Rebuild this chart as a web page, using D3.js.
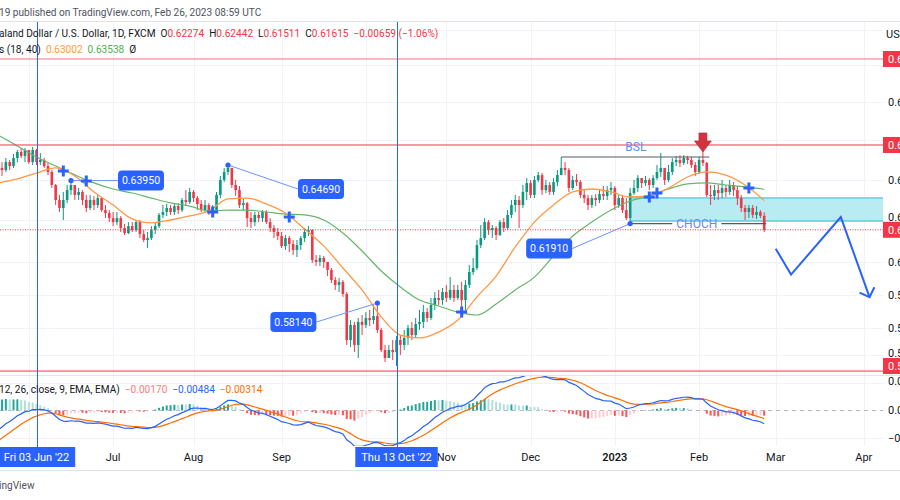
<!DOCTYPE html>
<html>
<head>
<meta charset="utf-8">
<script src="https://cdn.jsdelivr.net/npm/d3@7"></script>
<style>
  body { margin: 0; background: #fff; }
  svg { display: block; font-family: Roboto, "Noto Sans", sans-serif; }
  text { white-space: pre; }
</style>
</head>
<body>
<script>
// NZDUSD daily, 20 May 2022 .. 24 Feb 2023 (weekdays only)
const startDate = new Date(2022, 4, 20);
const open0 = 0.6407;
const closes = [
  .6455,.6445,.6483,.6464,.6502,.6531,.6512,.6540,.6483,.6540,
  .6483,.6493,.6464,.6436,.6374,.6303,.6265,.6303,.6350,.6374,
  .6327,.6341,.6303,.6265,.6303,.6279,.6312,.6255,.6241,.6217,
  .6198,.6217,.6170,.6146,.6179,.6160,.6198,.6141,.6113,.6122,
  .6160,.6179,.6232,.6246,.6265,.6246,.6274,.6255,.6303,.6293,
  .6341,.6312,.6284,.6255,.6279,.6246,.6255,.6327,.6398,.6436,
  .6455,.6374,.6350,.6279,.6288,.6217,.6198,.6232,.6217,.6246,
  .6198,.6170,.6151,.6132,.6084,.6122,.6094,.6066,.6089,.6122,
  .6151,.6160,.6018,.6009,.6028,.6009,.5971,.5923,.5900,.5914,
  .5857,.5638,.5710,.5615,.5724,.5710,.5743,.5733,.5752,.5686,
  .5591,.5553,.5591,.5581,.5638,.5615,.5648,.5695,.5662,.5714,
  .5724,.5771,.5743,.5805,.5838,.5828,.5866,.5838,.5876,.5838,
  .5876,.5828,.5900,.5961,.5980,.6089,.6122,.6198,.6160,.6170,
  .6137,.6198,.6170,.6232,.6279,.6303,.6279,.6341,.6383,.6327,
  .6398,.6421,.6350,.6374,.6341,.6388,.6421,.6455,.6445,.6360,
  .6398,.6388,.6327,.6312,.6279,.6312,.6303,.6331,.6322,.6350,
  .6360,.6279,.6312,.6255,.6217,.6336,.6360,.6407,.6383,.6398,
  .6374,.6407,.6436,.6455,.6398,.6436,.6483,.6493,.6479,.6502,
  .6493,.6469,.6436,.6493,.6479,.6327,.6322,.6350,.6336,.6360,
  .6341,.6374,.6350,.6312,.6265,.6246,.6265,.6232,.6246,.62274,
  .61615
];
const highs = [
  .6469,.6483,.6502,.6493,.6521,.6540,.6550,.6550,.6540,.6555,
  .6545,.6526,.6502,.6478,.6445,.6379,.6327,.6341,.6374,.6398,
  .6374,.6360,.6350,.6327,.6327,.6322,.6327,.6317,.6279,.6255,
  .6246,.6246,.6227,.6189,.6198,.6198,.6208,.6208,.6160,.6151,
  .6179,.6198,.6241,.6279,.6284,.6279,.6284,.6288,.6312,.6350,
  .6360,.6350,.6322,.6303,.6303,.6288,.6279,.6341,.6417,.6455,
  .6469,.6455,.6398,.6369,.6312,.6293,.6246,.6246,.6246,.6255,
  .6255,.6217,.6184,.6170,.6151,.6137,.6132,.6113,.6113,.6132,
  .6170,.6179,.6165,.6042,.6042,.6037,.6009,.5980,.5937,.5933,
  .5923,.5866,.5733,.5724,.5743,.5757,.5771,.5781,.5805,.5814,
  .5695,.5615,.5615,.5638,.5657,.5662,.5686,.5710,.5724,.5743,
  .5781,.5805,.5790,.5838,.5866,.5876,.5885,.5900,.5937,.5900,
  .5900,.5914,.5923,.5994,.6028,.6113,.6184,.6217,.6208,.6184,
  .6179,.6208,.6217,.6255,.6303,.6327,.6322,.6374,.6407,.6398,
  .6417,.6436,.6431,.6398,.6388,.6407,.6445,.6507,.6483,.6455,
  .6417,.6426,.6398,.6350,.6327,.6327,.6331,.6350,.6369,.6369,
  .6388,.6369,.6327,.6327,.6312,.6360,.6398,.6421,.6407,.6417,
  .6407,.6421,.6469,.6526,.6455,.6469,.6502,.6512,.6516,.6516,
  .6512,.6507,.6483,.6507,.6540,.6483,.6374,.6374,.6374,.6398,
  .6374,.6398,.6388,.6369,.6327,.6279,.6279,.6279,.6274,.6255,
  .62442
];
const lows = [
  .6398,.6417,.6436,.6445,.6455,.6483,.6502,.6483,.6474,.6469,
  .6469,.6469,.6455,.6421,.6360,.6279,.6246,.6208,.6288,.6327,
  .6303,.6303,.6279,.6246,.6255,.6255,.6265,.6246,.6217,.6198,
  .6179,.6184,.6151,.6137,.6141,.6151,.6151,.6122,.6103,.6075,
  .6113,.6141,.6170,.6217,.6227,.6232,.6232,.6236,.6246,.6274,
  .6284,.6293,.6255,.6246,.6246,.6232,.6232,.6246,.6312,.6388,
  .6421,.6360,.6322,.6265,.6255,.6175,.6170,.6179,.6198,.6198,
  .6189,.6151,.6122,.6113,.6075,.6066,.6056,.6042,.6032,.6066,
  .6104,.6132,.6004,.5990,.5990,.5980,.5942,.5909,.5876,.5866,
  .5843,.5615,.5605,.5581,.5553,.5662,.5695,.5705,.5714,.5672,
  .5581,.5534,.5553,.5543,.5515,.5567,.5591,.5615,.5638,.5648,
  .5686,.5695,.5724,.5733,.5781,.5805,.5805,.5819,.5828,.5819,
  .5828,.5781,.5767,.5885,.5947,.5971,.6075,.6113,.6137,.6122,
  .6113,.6132,.6151,.6160,.6217,.6246,.6170,.6265,.6303,.6312,
  .6312,.6388,.6327,.6336,.6327,.6327,.6369,.6436,.6421,.6341,
  .6350,.6369,.6312,.6288,.6255,.6265,.6274,.6288,.6303,.6303,
  .6327,.6255,.6265,.6241,.6208,.6191,.6327,.6341,.6360,.6369,
  .6350,.6360,.6398,.6412,.6374,.6388,.6421,.6464,.6459,.6469,
  .6474,.6455,.6417,.6426,.6464,.6317,.6279,.6303,.6303,.6312,
  .6317,.6327,.6322,.6279,.6246,.6208,.6217,.6217,.6213,.6217,
  .61511
];

// moving averages, read every 5th bar
const maStep = 5;
const maFast = [
  .6384,.6403,.6431,.6455,.6417,.6341,.6279,.6213,.6194,.6208,
  .6227,.6251,.6308,.6312,.6284,.6241,.6165,.6085,.5980,.5876,
  .5748,.5662,.5648,.5676,.5733,.5843,.5942,.6080,.6198,.6279,
  .6341,.6355,.6341,.6317,.6322,.6360,.6412,.6436,.6421,.6374,
  .63002
];
const maSlow = [
  .6611,.6559,.6507,.6464,.6422,.6384,.6355,.6336,.6312,.6289,
  .6274,.6251,.6255,.6255,.6246,.6236,.6232,.6208,.6146,.6061,
  .5966,.5890,.5828,.5800,.5771,.5757,.5809,.5876,.5937,.6037,
  .6132,.6198,.6255,.6298,.6322,.6355,.6379,.6384,.6374,.6365,
  .63538
];

// MACD (12, 26, 9) state before the first visible bar
const macdSeed = { ema12: 0.6365, ema26: 0.6449, signal: -0.0120 };
const macdLabel = ["\u22120.00170", "\u22120.00484", "\u22120.00314"];

const priceTicks = [0.7110, 0.6944, 0.6768, 0.6588, 0.6398, 0.6208, 0.6009, 0.5852, 0.5695, 0.5567];
const macdTicks = [0.01, 0, -0.01];
const levels = [
  { v: 0.6972, color: "#f5a3a9", w: 1.6 },
  { v: 0.6564, color: "#f23645", w: 1 },
  { v: 0.5491, color: "#f23645", w: 1 }
];

const monthTicks = [
  ["Jun", "2022-06-01"], ["Jul", "2022-07-01"], ["Aug", "2022-08-01"], ["Sep", "2022-09-01"],
  ["Oct", "2022-10-03"], ["Nov", "2022-11-01"], ["Dec", "2022-12-01"], ["2023", "2023-01-02"],
  ["Feb", "2023-02-01"], ["Mar", "2023-03-01"], ["Apr", "2023-04-03"]
];
const dateMarks = [["Fri 03 Jun '22", "2022-06-03"], ["Thu 13 Oct '22", "2022-10-13"]];

// price notes: anchor bar, price, label offset in px
const notes = [
  { i: 19, v: 0.6395, dx: 70, dy: 0 },
  { i: 60, v: 0.6469, dx: 93, dy: 24 },
  { i: 99, v: 0.5814, dx: -84, dy: 19 },
  { i: 165, v: 0.6191, dx: -81, dy: 25 }
];
const crosses = [[17, 0.6440], [23, 0.6393], [56, 0.6246], [76, 0.6222], [121, 0.5771], [170, 0.6317], [172, 0.6336], [196, 0.6360]];
const bsl = { i0: 147, i1: 185.7, v: 0.6507, textI: 166.5, textV: 0.6554 };
const choch = { i0: 165, i1: 200.5, v: 0.6191, textI: 182.4 };
const zone = { i0: 165, top: 0.6312, bottom: 0.6203 };
const arrowDown = { i: 184, v: 0.6531 };
const projection = [[203, 0.6072], [207, 0.5949], [220, 0.6222], [227.5, 0.5842]];

// ---------------------------------------------------------------
const W = 900, H = 500, plotR = 883;
const mainTop = 22, mainBot = 373, macdTop = 376, macdBot = 446, axisBot = 470;
const up = "#089981", down = "#f23645", blue = "#2962ff";

const days = d3.timeDays(startDate, new Date(2023, 4, 1)).filter(d => d.getDay() % 6 !== 0);
const parse = d3.timeParse("%Y-%m-%d");
const idx = s => days.findIndex(d => +d === +parse(s));

const x = d3.scaleLinear().domain([10, 183]).range([36.5, 699.1]);
const y = d3.scaleLinear().domain([0.5814, 0.6469]).range([303, 165]);
const ym = d3.scaleLinear().domain([-0.01, 0.01]).range([438, 383]);

const svg = d3.select("body").append("svg").attr("width", W).attr("height", H);
svg.append("rect").attr("width", W).attr("height", H).attr("fill", "#fff");

const defs = svg.append("defs");
defs.append("clipPath").attr("id", "cm").append("rect")
  .attr("x", 0).attr("y", mainTop).attr("width", plotR).attr("height", mainBot - mainTop);
defs.append("clipPath").attr("id", "cd").append("rect")
  .attr("x", 0).attr("y", macdTop).attr("width", plotR).attr("height", macdBot - macdTop);

// grid
const grid = svg.append("g").attr("stroke", "#f0f3fa").attr("stroke-width", 1);
monthTicks.forEach(([, d]) => {
  const xx = Math.round(x(idx(d))) + 0.5;
  grid.append("line").attr("x1", xx).attr("x2", xx).attr("y1", mainTop).attr("y2", macdBot);
});
priceTicks.forEach(v => {
  const yy = Math.round(y(v)) + 0.5;
  grid.append("line").attr("x1", 0).attr("x2", plotR).attr("y1", yy).attr("y2", yy);
});
macdTicks.filter(v => v !== 0).forEach(v => {
  const yy = Math.round(ym(v)) + 0.5;
  grid.append("line").attr("x1", 0).attr("x2", plotR).attr("y1", yy).attr("y2", yy);
});
svg.append("line").attr("x1", 0).attr("x2", W).attr("y1", mainTop - 0.5).attr("y2", mainTop - 0.5).attr("stroke", "#e0e3eb");
svg.append("line").attr("x1", 0).attr("x2", W).attr("y1", macdTop - 0.5).attr("y2", macdTop - 0.5).attr("stroke", "#e0e3eb");
svg.append("line").attr("x1", 0).attr("x2", W).attr("y1", axisBot + 0.5).attr("y2", axisBot + 0.5).attr("stroke", "#e0e3eb");

// main pane
const gm = svg.append("g").attr("clip-path", "url(#cm)");

gm.append("rect")
  .attr("x", x(zone.i0)).attr("y", y(zone.top))
  .attr("width", plotR - x(zone.i0)).attr("height", y(zone.bottom) - y(zone.top))
  .attr("fill", "#b9ebf2");
gm.append("line").attr("x1", x(zone.i0)).attr("x2", plotR).attr("y1", y(zone.top)).attr("y2", y(zone.top))
  .attr("stroke", "#7fd8e6").attr("stroke-width", 2);
gm.append("line").attr("x1", x(zone.i0)).attr("x2", plotR).attr("y1", y(zone.bottom)).attr("y2", y(zone.bottom))
  .attr("stroke", "#26b7c9").attr("stroke-width", 1);

const bars = closes.map((c, i) => ({ i, o: i ? closes[i - 1] : open0, h: highs[i], l: lows[i], c }));
const cg = gm.append("g").selectAll("g").data(bars).join("g")
  .attr("fill", d => d.c >= d.o ? up : down)
  .attr("stroke", d => d.c >= d.o ? up : down);
cg.append("line")
  .attr("x1", d => x(d.i)).attr("x2", d => x(d.i))
  .attr("y1", d => y(d.h)).attr("y2", d => y(d.l)).attr("stroke-width", 1);
cg.append("rect")
  .attr("stroke", "none")
  .attr("x", d => x(d.i) - 1.3).attr("width", 2.6)
  .attr("y", d => y(Math.max(d.o, d.c)))
  .attr("height", d => Math.max(1, Math.abs(y(d.o) - y(d.c))));

const maLine = d3.line().x((d, k) => x(k * maStep)).y(d => y(d)).curve(d3.curveMonotoneX);
gm.append("path").attr("d", maLine(maSlow)).attr("fill", "none").attr("stroke", "#66b66a").attr("stroke-width", 1.2);
gm.append("path").attr("d", maLine(maFast)).attr("fill", "none").attr("stroke", "#ff9845").attr("stroke-width", 1.3);

levels.forEach(l => {
  gm.append("line").attr("x1", 0).attr("x2", plotR).attr("y1", y(l.v)).attr("y2", y(l.v))
    .attr("stroke", l.color).attr("stroke-width", l.w);
});
const last = bars[bars.length - 1];
gm.append("line").attr("x1", 0).attr("x2", plotR).attr("y1", y(last.c)).attr("y2", y(last.c))
  .attr("stroke", down).attr("stroke-dasharray", "1,1.5");

// BSL and CHOCH
gm.append("line").attr("x1", x(bsl.i0)).attr("x2", x(bsl.i1)).attr("y1", y(bsl.v)).attr("y2", y(bsl.v))
  .attr("stroke", "#555a66").attr("stroke-width", 1.2);
gm.append("text").attr("x", x(bsl.textI)).attr("y", y(bsl.textV)).attr("dy", "0.35em")
  .attr("text-anchor", "middle").attr("font-size", 12).attr("fill", "#6a8af5").text("BSL");
const chText = gm.append("text").attr("x", x(choch.textI)).attr("y", y(choch.v)).attr("dy", "0.35em")
  .attr("text-anchor", "middle").attr("font-size", 12).attr("fill", "#6a8af5").text("CHOCH");
const tw = chText.node().getComputedTextLength() / 2 + 4;
[[x(choch.i0), x(choch.textI) - tw], [x(choch.textI) + tw, x(choch.i1)]].forEach(([a, b]) => {
  gm.append("line").attr("x1", a).attr("x2", b).attr("y1", y(choch.v)).attr("y2", y(choch.v))
    .attr("stroke", "#555a66").attr("stroke-width", 1.2);
});

// price notes
notes.forEach(n => {
  const ax = x(n.i), ay = y(n.v), bx = ax + n.dx, by = ay + n.dy;
  const edge = n.dx > 0 ? bx - 23 : bx + 23;
  gm.append("line").attr("x1", ax).attr("y1", ay).attr("x2", edge).attr("y2", by)
    .attr("stroke", "#6b95f5").attr("stroke-width", 1);
  gm.append("circle").attr("cx", ax).attr("cy", ay).attr("r", 2.6).attr("fill", blue);
  gm.append("rect").attr("x", bx - 23).attr("y", by - 10).attr("width", 46).attr("height", 20)
    .attr("rx", 4).attr("fill", blue);
  gm.append("text").attr("x", bx).attr("y", by).attr("dy", "0.35em").attr("text-anchor", "middle")
    .attr("font-size", 10.5).attr("fill", "#fff").text(d3.format(".5f")(n.v));
});

crosses.forEach(([i, v]) => {
  gm.append("path").attr("transform", `translate(${x(i)},${y(v)})`)
    .attr("d", "M-5.5,0H5.5M0,-5.5V5.5").attr("stroke", blue).attr("stroke-width", 3);
});

// red arrow
{
  const ax = x(arrowDown.i), ty = y(arrowDown.v);
  gm.append("path")
    .attr("d", `M${ax - 4},${ty - 19}H${ax + 4}V${ty - 11}H${ax + 8.5}L${ax},${ty}L${ax - 8.5},${ty - 11}H${ax - 4}Z`)
    .attr("fill", "#d1343f").attr("stroke", "#b52a33").attr("stroke-width", 0.6);
}

// projection path
{
  const pts = projection.map(([i, v]) => [x(i), y(v)]);
  gm.append("path").attr("d", d3.line()(pts)).attr("fill", "none").attr("stroke", blue).attr("stroke-width", 2);
  const [p1, p0] = [pts[pts.length - 1], pts[pts.length - 2]];
  const ang = Math.atan2(p0[1] - p1[1], p0[0] - p1[0]);
  const head = [ang - 0.8, ang + 0.8].map(a => [p1[0] + 11 * Math.cos(a), p1[1] + 11 * Math.sin(a)]);
  gm.append("path").attr("d", d3.line()([head[0], p1, head[1]])).attr("fill", "none")
    .attr("stroke", blue).attr("stroke-width", 2);
}

// MACD pane
const a12 = 2 / 13, a26 = 2 / 27, a9 = 2 / 10;
let e12 = macdSeed.ema12, e26 = macdSeed.ema26, sig = macdSeed.signal;
const macd = closes.map((c, i) => {
  e12 += a12 * (c - e12);
  e26 += a26 * (c - e26);
  const m = e12 - e26;
  sig += a9 * (m - sig);
  return { i, m, s: sig, h: m - sig };
});
const gd = svg.append("g").attr("clip-path", "url(#cd)");
gd.append("line").attr("x1", 0).attr("x2", plotR).attr("y1", ym(0)).attr("y2", ym(0))
  .attr("stroke", "#b2b5be").attr("stroke-dasharray", "4,4");
gd.append("g").selectAll("rect").data(macd).join("rect")
  .attr("x", d => x(d.i) - 1).attr("width", 2)
  .attr("y", d => Math.min(ym(0), ym(d.h)))
  .attr("height", d => Math.abs(ym(d.h) - ym(0)))
  .attr("fill", (d, k) => {
    const prev = k ? macd[k - 1].h : d.h;
    if (d.h >= 0) return d.h >= prev ? "#26a69a" : "#b2dfdb";
    return d.h <= prev ? "#ff5252" : "#ffcdd2";
  });
gd.append("path").attr("d", d3.line().x(d => x(d.i)).y(d => ym(d.s))(macd))
  .attr("fill", "none").attr("stroke", "#ff6d00").attr("stroke-width", 1.2);
gd.append("path").attr("d", d3.line().x(d => x(d.i)).y(d => ym(d.m))(macd))
  .attr("fill", "none").attr("stroke", blue).attr("stroke-width", 1.2);

// vertical markers
dateMarks.forEach(([, d]) => {
  const xx = Math.round(x(idx(d))) + 0.5;
  svg.append("line").attr("x1", xx).attr("x2", xx).attr("y1", mainTop).attr("y2", macdBot + 2)
    .attr("stroke", blue).attr("stroke-width", 1);
});

// right axis (labels run past the right edge, as in the screenshot)
const lx = 888;
const tagYs = [...levels.map(l => l.v), last.c].map(v => Math.min(y(v), mainBot - 7));
const ax = svg.append("g").attr("font-size", 11).attr("fill", "#131722");
ax.append("text").attr("x", lx - 2).attr("y", 34).attr("dy", "0.35em").text("USD");
priceTicks
  .filter(v => y(v) > 45 && tagYs.every(t => Math.abs(t - y(v)) > 9))
  .forEach(v => {
    // nudge a label away from a nearby price tag
    let yy = y(v);
    tagYs.forEach(t => { if (Math.abs(t - yy) < 13) yy = t + (yy < t ? -13 : 13); });
    ax.append("text").attr("x", lx).attr("y", yy).attr("dy", "0.35em").text(d3.format(".5f")(v));
  });
macdTicks.forEach(v => ax.append("text").attr("x", lx).attr("y", v > 0 ? 381 : ym(v)).attr("dy", "0.35em")
  .text(d3.format(".5f")(v).replace("-", "\u2212")));
[...levels.map(l => l.v), last.c].forEach((v, k) => {
  const yy = tagYs[k];
  ax.append("rect").attr("x", plotR).attr("y", yy - 8).attr("width", W - plotR).attr("height", 16).attr("fill", down);
  ax.append("text").attr("x", lx).attr("y", yy).attr("dy", "0.35em").attr("fill", "#fff").text(d3.format(".5f")(v));
});

// time axis
const covered = dateMarks.map(([, d]) => idx(d));
const tx = svg.append("g").attr("font-size", 11).attr("text-anchor", "middle");
monthTicks.filter(([, d]) => covered.every(c => Math.abs(c - idx(d)) > 10)).forEach(([lab, d]) => {
  tx.append("text").attr("x", x(idx(d))).attr("y", 457).attr("dy", "0.35em")
    .attr("fill", "#131722").attr("font-weight", lab === "2023" ? 600 : 400).text(lab);
});
dateMarks.forEach(([lab, d]) => {
  const xx = x(idx(d));
  const t = tx.append("text").attr("x", xx).attr("y", 457).attr("dy", "0.35em").attr("fill", "#fff").text(lab);
  const w = t.node().getComputedTextLength() + 12;
  tx.insert("rect", "text:last-child").attr("x", xx - w / 2).attr("y", 447).attr("width", w).attr("height", 20).attr("fill", blue);
});

// legends
const fmt = d3.format(".5f");
const chg = last.c - last.o;
function textLine(yy, parts) {
  const t = svg.append("text").attr("x", -1).attr("y", yy).attr("font-size", 10.1);
  parts.forEach(([s, c]) => t.append("tspan").attr("fill", c).text(s));
}
const ink = "#131722", red = "#f23645";
textLine(16, [["19 published on TradingView.com, Feb 26, 2023 08:59 UTC", "#50535e"]]);
textLine(37, [
  ["aland Dollar / U.S. Dollar, 1D, FXCM  O", ink], [fmt(last.o), red],
  ["  H", ink], [fmt(last.h), red], ["  L", ink], [fmt(last.l), red],
  ["  C", ink], [fmt(last.c), red],
  [`  ${fmt(chg).replace("-", "\u2212")} (${d3.format(".2%")(chg / last.o).replace("-", "\u2212")})`, red]
]);
textLine(53, [["s (18, 40)  ", ink], [fmt(maFast[maFast.length - 1]), "#ff9845"], ["  ", ink],
  [fmt(maSlow[maSlow.length - 1]), "#4caf50"], ["  \u00d8", ink]]);
textLine(393, [["12, 26, close, 9, EMA, EMA)  ", ink], [macdLabel[0], "#f77c80"], ["  ", ink],
  [macdLabel[1], blue], ["  ", ink], [macdLabel[2], "#ff6d00"]]);
textLine(489, [["ingView", "#50535e"]]);
</script>
</body>
</html>
